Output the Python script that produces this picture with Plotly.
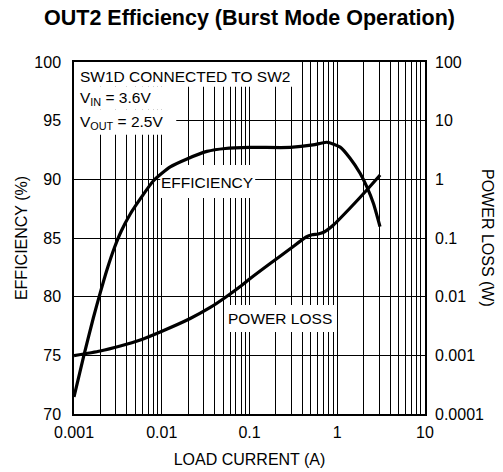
import math
import plotly.graph_objects as go

# Efficiency vs. load current (A -> %)
eff_current = [0.001, 0.00129, 0.00166, 0.00199, 0.00239, 0.00288, 0.00346, 0.00438,
               0.00569, 0.0080, 0.0125, 0.0194, 0.0327, 0.0529, 0.102, 0.291, 0.53,
               0.76, 1.08, 1.40, 1.82, 2.17, 2.58, 3.07]
efficiency = [71.45, 74.94, 78.18, 80.32, 82.36, 84.15, 85.60, 87.05,
              88.33, 89.86, 91.06, 91.74, 92.38, 92.63, 92.72, 92.72, 92.93,
              93.16, 92.75, 91.8, 90.52, 89.38, 87.96, 85.97]

# Power loss vs. load current (A -> W)
loss_current = [0.001, 0.00199, 0.00337, 0.00569, 0.00961, 0.0211, 0.0357, 0.0529,
                0.0784, 0.102, 0.172, 0.291, 0.442, 0.518, 0.606, 0.709, 0.905,
                1.403, 2.174, 3.08]
power_loss = [0.00099, 0.001185, 0.001442, 0.001825, 0.0025, 0.00424, 0.00654, 0.00968,
              0.0149, 0.0204, 0.0367, 0.0654, 0.104, 0.1133, 0.117, 0.1265, 0.1665,
              0.3245, 0.658, 1.185]

# Axis ticks
x_decades = [0.001, 0.01, 0.1, 1, 10]
x_decade_labels = ["0.001", "0.01", "0.1", "1", "10"]
eff_ticks = [70, 75, 80, 85, 90, 95, 100]
loss_ticks = [0.0001, 0.001, 0.01, 0.1, 1, 10, 100]
loss_tick_labels = ["0.0001", "0.001", "0.01", "0.1", "1", "10", "100"]

TEXT_FONT = "Liberation Sans, Arial, sans-serif"

fig = go.Figure()
fig.add_trace(go.Scatter(x=eff_current, y=efficiency, mode="lines",
                         line=dict(color="black", width=3.2, shape="spline", smoothing=0.6),
                         showlegend=False, hoverinfo="skip"))
fig.add_trace(go.Scatter(x=loss_current, y=power_loss, mode="lines", yaxis="y2",
                         line=dict(color="black", width=3.2, shape="spline", smoothing=0.6),
                         showlegend=False, hoverinfo="skip"))

label_font = dict(family=TEXT_FONT, size=15.5, color="black")

# white strips behind the labels: they hide the grid but stay under the curves
label_boxes = [
    (0.001, 0.3228, 97.88, 100.0),   # SW1D CONNECTED TO SW2
    (0.001, 0.0125, 95.92, 97.88),   # V_IN
    (0.001, 0.01463, 93.79, 95.92),  # V_OUT
    (0.00961, 0.1161, 88.41, 91.23),  # EFFICIENCY
    (0.0529, 0.9717, 76.99, 79.29),  # POWER LOSS
]
for x0, x1, y0, y1 in label_boxes:
    fig.add_shape(type="rect", xref="x", yref="y", x0=x0, x1=x1, y0=y0, y1=y1,
                  fillcolor="white", line=dict(width=0), layer="between")

notes = [
    dict(text="SW1D CONNECTED TO SW2", xref="paper", x=0.0, y=98.75, xanchor="left", xshift=4),
    dict(text="V<sub>IN</sub> = 3.6V", xref="paper", x=0.0, y=96.85, xanchor="left", xshift=4),
    dict(text="V<sub>OUT</sub> = 2.5V", xref="paper", x=0.0, y=94.85, xanchor="left", xshift=4),
    dict(text="EFFICIENCY", xref="x", x=math.log10(0.0330), y=89.69, xanchor="center"),
    dict(text="POWER LOSS", xref="x", x=math.log10(0.224), y=78.18, xanchor="center"),
]
for n in notes:
    fig.add_annotation(yref="y", yanchor="middle", showarrow=False, font=label_font, **n)

fig.add_annotation(text="<b>OUT2 Efficiency (Burst Mode Operation)</b>", xref="paper",
                   yref="paper", x=0.5, y=1.0, yshift=44, xanchor="center", yanchor="middle",
                   showarrow=False, font=dict(family=TEXT_FONT, size=21.5, color="black"))

# right-hand axis title reads top to bottom
fig.add_annotation(text="POWER LOSS (W)", xref="paper", yref="paper", x=1.0, y=0.5,
                   xshift=63, xanchor="center", yanchor="middle", textangle=90,
                   showarrow=False, font=dict(family=TEXT_FONT, size=16, color="black"))

fig.update_layout(
    width=503, height=472,
    margin=dict(l=74, r=78, t=62, b=58),
    paper_bgcolor="white", plot_bgcolor="white",
    font=dict(family=TEXT_FONT, size=16, color="black"),
    xaxis=dict(type="log", range=[-3, 1], tickvals=x_decades, ticktext=x_decade_labels,
               showgrid=True, gridcolor="black", gridwidth=1, ticks="",
               minor=dict(dtick="D1", showgrid=True, gridcolor="black", gridwidth=1),
               showline=True, linecolor="black", linewidth=1.5, mirror=True,
               zeroline=False, tickfont=dict(size=16), ticklabelstandoff=3,
               automargin=False,
               title=dict(text="LOAD CURRENT (A)", font=dict(size=16), standoff=14)),
    yaxis=dict(range=[70, 100], tickvals=eff_ticks, showgrid=True, gridcolor="black",
               gridwidth=1, ticks="", showline=True, linecolor="black", linewidth=1.5,
               mirror=True, zeroline=False, tickfont=dict(size=16), ticklabelstandoff=8,
               automargin=False,
               title=dict(text="EFFICIENCY (%)", font=dict(size=16), standoff=3)),
    yaxis2=dict(type="log", range=[-4, 2], overlaying="y", side="right",
                tickvals=loss_ticks, ticktext=loss_tick_labels, showgrid=False,
                ticks="", zeroline=False, tickfont=dict(size=16), ticklabelstandoff=9,
                automargin=False),
)

fig.write_html("out.html")
